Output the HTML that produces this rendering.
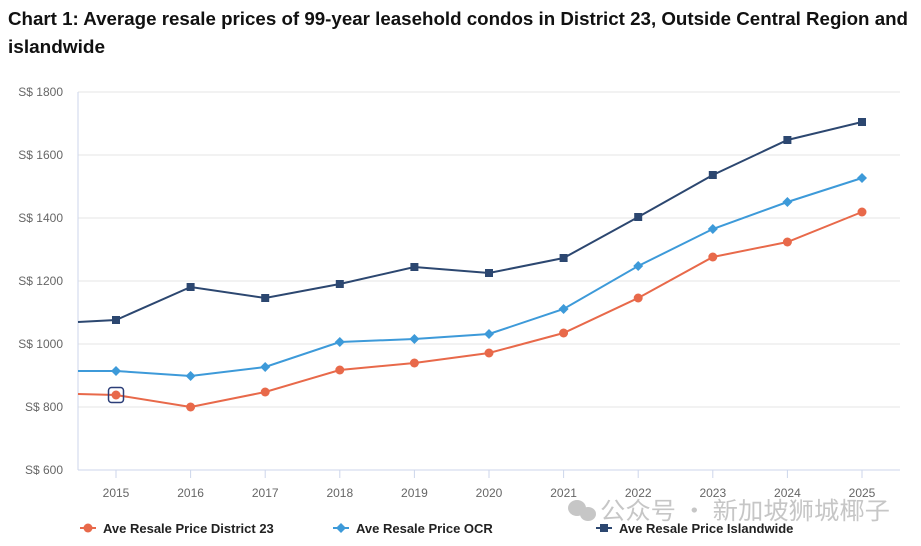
<!DOCTYPE html>
<html><head><meta charset="utf-8"><style>
body{margin:0;background:#fff;width:921px;height:546px;overflow:hidden}
svg{display:block}
</style></head><body>
<svg width="921" height="546" xmlns="http://www.w3.org/2000/svg" font-family="Liberation Sans, DejaVu Sans, sans-serif">
<text x="8" y="25" font-size="18" font-weight="bold" fill="#111" textLength="900" lengthAdjust="spacingAndGlyphs">Chart 1: Average resale prices of 99-year leasehold condos in District 23, Outside Central Region and</text>
<text x="8" y="53" font-size="18" font-weight="bold" fill="#111" textLength="97" lengthAdjust="spacingAndGlyphs">islandwide</text>
<g stroke="#e6e6e6" stroke-width="1">
<line x1="78" x2="900" y1="92" y2="92"/><line x1="78" x2="900" y1="155" y2="155"/><line x1="78" x2="900" y1="218" y2="218"/><line x1="78" x2="900" y1="281" y2="281"/><line x1="78" x2="900" y1="344" y2="344"/><line x1="78" x2="900" y1="407" y2="407"/>
</g>
<line x1="78" x2="900" y1="470" y2="470" stroke="#ccd6eb"/>
<line x1="78" x2="78" y1="92" y2="470" stroke="#ccd6eb"/>
<g stroke="#ccd6eb">
<line x1="116" x2="116" y1="470" y2="478"/><line x1="190.6" x2="190.6" y1="470" y2="478"/><line x1="265.2" x2="265.2" y1="470" y2="478"/><line x1="339.8" x2="339.8" y1="470" y2="478"/><line x1="414.4" x2="414.4" y1="470" y2="478"/><line x1="489" x2="489" y1="470" y2="478"/><line x1="563.6" x2="563.6" y1="470" y2="478"/><line x1="638.2" x2="638.2" y1="470" y2="478"/><line x1="712.8" x2="712.8" y1="470" y2="478"/><line x1="787.4" x2="787.4" y1="470" y2="478"/><line x1="862" x2="862" y1="470" y2="478"/>
</g>
<g font-size="12" fill="#666" text-anchor="end">
<text x="63" y="96">S$ 1800</text><text x="63" y="159">S$ 1600</text><text x="63" y="222">S$ 1400</text><text x="63" y="285">S$ 1200</text><text x="63" y="348">S$ 1000</text><text x="63" y="411">S$ 800</text><text x="63" y="474">S$ 600</text>
</g>
<g font-size="12" fill="#666" text-anchor="middle">
<text x="116" y="497">2015</text><text x="190.6" y="497">2016</text><text x="265.2" y="497">2017</text><text x="339.8" y="497">2018</text><text x="414.4" y="497">2019</text><text x="489" y="497">2020</text><text x="563.6" y="497">2021</text><text x="638.2" y="497">2022</text><text x="712.8" y="497">2023</text><text x="787.4" y="497">2024</text><text x="862" y="497">2025</text>
</g>
<polyline fill="none" stroke="#2c4770" stroke-width="2" points="78,322 116,320 190.6,287 265.2,298 339.8,284 414.4,267 489,273 563.6,258 638.2,217 712.8,175 787.4,140 862,122"/>
<g fill="#2c4770">
<rect x="112" y="316" width="8" height="8"/><rect x="186.6" y="283" width="8" height="8"/><rect x="261.2" y="294" width="8" height="8"/><rect x="335.8" y="280" width="8" height="8"/><rect x="410.4" y="263" width="8" height="8"/><rect x="485" y="269" width="8" height="8"/><rect x="559.6" y="254" width="8" height="8"/><rect x="634.2" y="213" width="8" height="8"/><rect x="708.8" y="171" width="8" height="8"/><rect x="783.4" y="136" width="8" height="8"/><rect x="858" y="118" width="8" height="8"/>
</g>
<polyline fill="none" stroke="#3d9ad9" stroke-width="2" points="78,371 116,371 190.6,376 265.2,367 339.8,342 414.4,339 489,334 563.6,309 638.2,266 712.8,229 787.4,202 862,178"/>
<g fill="#3d9ad9">
<path d="M116 366l5 5-5 5-5-5z"/><path d="M190.6 371l5 5-5 5-5-5z"/><path d="M265.2 362l5 5-5 5-5-5z"/><path d="M339.8 337l5 5-5 5-5-5z"/><path d="M414.4 334l5 5-5 5-5-5z"/><path d="M489 329l5 5-5 5-5-5z"/><path d="M563.6 304l5 5-5 5-5-5z"/><path d="M638.2 261l5 5-5 5-5-5z"/><path d="M712.8 224l5 5-5 5-5-5z"/><path d="M787.4 197l5 5-5 5-5-5z"/><path d="M862 173l5 5-5 5-5-5z"/>
</g>
<polyline fill="none" stroke="#e8694a" stroke-width="2" points="78,394 116,395 190.6,407 265.2,392 339.8,370 414.4,363 489,353 563.6,333 638.2,298 712.8,257 787.4,242 862,212"/>
<g fill="#e8694a">
<circle cx="116" cy="395" r="4.5"/><circle cx="190.6" cy="407" r="4.5"/><circle cx="265.2" cy="392" r="4.5"/><circle cx="339.8" cy="370" r="4.5"/><circle cx="414.4" cy="363" r="4.5"/><circle cx="489" cy="353" r="4.5"/><circle cx="563.6" cy="333" r="4.5"/><circle cx="638.2" cy="298" r="4.5"/><circle cx="712.8" cy="257" r="4.5"/><circle cx="787.4" cy="242" r="4.5"/><circle cx="862" cy="212" r="4.5"/>
</g>
<rect x="108.5" y="387.5" width="15" height="15" rx="3" fill="none" stroke="#2c3e78" stroke-width="1.5"/>
<g font-size="13" fill="#222" font-weight="bold">
<line x1="80" x2="96" y1="528" y2="528" stroke="#e8694a" stroke-width="2"/><circle cx="88" cy="528" r="4.5" fill="#e8694a"/>
<text x="103" y="533">Ave Resale Price District 23</text>
<line x1="333" x2="349" y1="528" y2="528" stroke="#3d9ad9" stroke-width="2"/><path d="M341 523l5 5-5 5-5-5z" fill="#3d9ad9"/>
<text x="356" y="533">Ave Resale Price OCR</text>
<line x1="596" x2="612" y1="528" y2="528" stroke="#2c4770" stroke-width="2"/><rect x="600" y="524" width="8" height="8" fill="#2c4770"/>
<text x="619" y="533">Ave Resale Price Islandwide</text>
</g>
<g opacity="0.55">
<ellipse cx="577" cy="508" rx="9" ry="8" fill="#999"/><ellipse cx="588" cy="514" rx="8" ry="7" fill="#999"/>
<text x="600" y="519" font-size="24" fill="#999" font-family="Noto Sans CJK SC, sans-serif" textLength="290" lengthAdjust="spacingAndGlyphs">公众号 · 新加坡狮城椰子</text>
</g>
</svg>
</body></html>
